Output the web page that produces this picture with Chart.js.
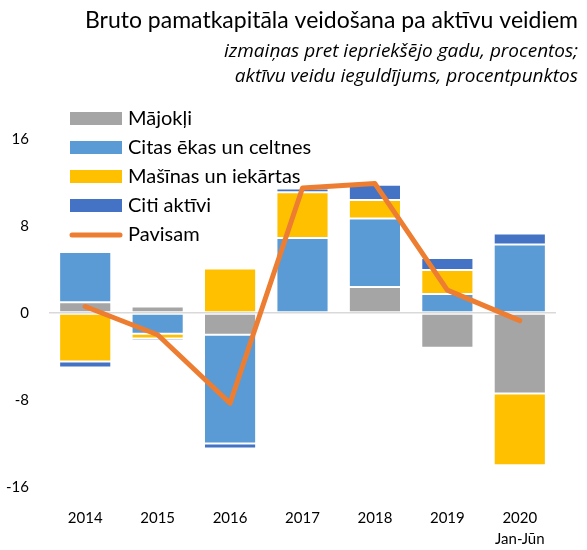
<!DOCTYPE html>
<html>
<head>
<meta charset="utf-8">
<script src="https://cdn.jsdelivr.net/npm/chart.js@4.4.0/dist/chart.umd.min.js"></script>
<style>
  html, body { margin: 0; padding: 0; background: #fff; }
  #wrap { width: 587px; height: 550px; position: relative; }
</style>
</head>
<body>
<div id="wrap"><canvas id="c" width="587" height="550"></canvas></div>
<script>
const categories = ['2014', '2015', '2016', '2017', '2018', '2019', ['2020', 'Jan-Jūn']];
const seriesNames = ['Mājokļi', 'Citas ēkas un celtnes', 'Mašīnas un iekārtas', 'Citi aktīvi', 'Pavisam'];
const majokli   = [1.0, 0.6, -2.0, 0.0, 2.4, -3.2, -7.4];
const citasEkas = [4.6, -1.9, -10.0, 6.9, 6.3, 1.75, 6.3];
const masinas   = [-4.45, -0.45, 4.1, 4.2, 1.7, 2.2, -6.6];
const citiAktivi = [-0.55, -0.2, -0.45, 0.35, 1.4, 1.1, 1.0];
const pavisam   = [0.6, -2.0, -8.3, 11.5, 11.9, 2.1, -0.7];
const yTicks = [-16, -8, 0, 8, 16];
const titleText = 'Bruto pamatkapitāla veidošana pa aktīvu veidiem';
const subtitleLines = ['izmaiņas pret iepriekšējo gadu, procentos;', 'aktīvu veidu ieguldījums, procentpunktos'];

const colors = ['#A5A5A5', '#5B9BD5', '#FFC000', '#4472C4', '#ED7D31'];
const FONT = 'Lato, "Open Sans", sans-serif';

const titlePlugin = {
  id: 'customTitle',
  afterDraw(chart) {
    const ctx = chart.ctx;
    ctx.save();
    ctx.fillStyle = '#000';
    ctx.textAlign = 'right';
    ctx.textBaseline = 'middle';
    ctx.font = '23px ' + FONT;
    ctx.fillText(titleText, 578, 21);
    ctx.font = 'italic 19px "Open Sans", sans-serif';
    ctx.fillText(subtitleLines[0], 578, 52);
    ctx.fillText(subtitleLines[1], 578, 77);
    ctx.restore();
  }
};

const legendPlugin = {
  id: 'customLegend',
  afterDraw(chart) {
    const ctx = chart.ctx;
    ctx.save();
    ctx.font = '20px ' + FONT;
    ctx.textBaseline = 'middle';
    ctx.textAlign = 'left';
    const x0 = 70, y0 = 119, dy = 29;
    chart.data.datasets.slice().sort((a, b) => a.legendIndex - b.legendIndex).forEach((ds, i) => {
      const y = y0 + i * dy;
      if (ds.type === 'line') {
        ctx.strokeStyle = ds.borderColor;
        ctx.lineWidth = 5;
        ctx.lineCap = 'round';
        ctx.beginPath();
        ctx.moveTo(x0 + 2, y);
        ctx.lineTo(x0 + 50, y);
        ctx.stroke();
      } else {
        ctx.fillStyle = ds.backgroundColor;
        ctx.fillRect(x0, y - 7, 52, 13);
      }
      ctx.fillStyle = '#000';
      ctx.fillText(ds.label, x0 + 58, y);
    });
    ctx.restore();
  }
};

const barDs = (label, data, color, idx) => ({
  type: 'bar', label, data, backgroundColor: color,
  borderColor: 'rgba(255,255,255,0.35)', borderWidth: 1, borderSkipped: false,
  stack: 'bars', order: 1, legendIndex: idx
});

new Chart(document.getElementById('c'), {
  data: {
    labels: categories,
    datasets: [
      barDs(seriesNames[0], majokli, colors[0], 0),
      barDs(seriesNames[1], citasEkas, colors[1], 1),
      barDs(seriesNames[2], masinas, colors[2], 2),
      barDs(seriesNames[3], citiAktivi, colors[3], 3),
      {
        type: 'line', label: seriesNames[4], data: pavisam,
        borderColor: colors[4], backgroundColor: colors[4], borderWidth: 5,
        pointRadius: 0, tension: 0, stack: 'total', order: 0, legendIndex: 4,
        borderCapStyle: 'round', borderJoinStyle: 'round'
      }
    ]
  },
  options: {
    responsive: false,
    animation: false,
    devicePixelRatio: 1,
    layout: { padding: { top: 139, right: 31, left: 0, bottom: 0 } },
    plugins: { legend: { display: false }, title: { display: false }, tooltip: { enabled: false } },
    scales: {
      x: {
        stacked: true,
        categoryPercentage: 0.7,
        barPercentage: 1,
        grid: { display: false, drawTicks: false },
        border: { display: false },
        ticks: { font: { family: FONT, size: 15, lineHeight: 1.45 }, color: '#000', padding: 20, maxRotation: 0 },
        afterFit(scale) { scale.height = 63; }
      },
      y: {
        stacked: true,
        min: -16, max: 16,
        afterBuildTicks(scale) { scale.ticks = yTicks.map(v => ({ value: v })); },
        grid: {
          drawTicks: false,
          color: c => (c.tick && c.tick.value === 0) ? '#D9D9D9' : 'rgba(0,0,0,0)',
          lineWidth: 1.5
        },
        border: { display: false },
        ticks: { font: { family: FONT, size: 15 }, color: '#000', padding: 20 },
        afterFit(scale) { scale.width = 49; }
      }
    }
  },
  plugins: [titlePlugin, legendPlugin]
});
</script>
</body>
</html>
